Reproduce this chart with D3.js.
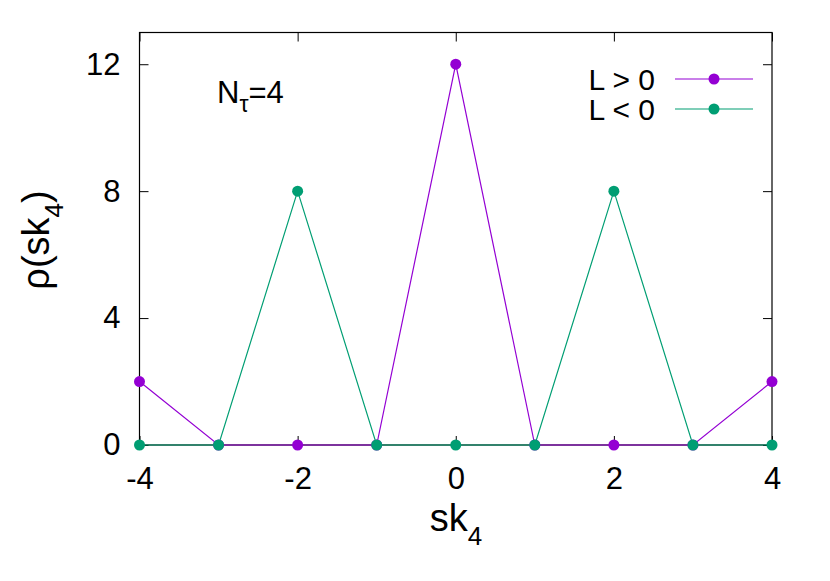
<!DOCTYPE html>
<html>
<head>
    <title>rho(sk4)</title>
    <script src="https://d3js.org/d3.v7.min.js"></script>
    <style>
        body { margin: 0; background: #fff; }
        svg { font-family: 'Liberation Sans', Arial, sans-serif; }
    </style>
</head>
<body>
    <svg id="chart" width="830" height="581"></svg>
    <script>
        // data
        const skValues = [-4, -3, -2, -1, 0, 1, 2, 3, 4];
        const rhoPositive = [2, 0, 0, 0, 12, 0, 0, 0, 2];   // L > 0
        const rhoNegative = [0, 0, 8, 0, 0, 0, 8, 0, 0];    // L < 0
        const xTicks = [-4, -2, 0, 2, 4];
        const yTicks = [0, 4, 8, 12];
        const seriesNames = ["L > 0", "L < 0"];
        const seriesColors = ["#9400d3", "#009e73"];

        const svg = d3.select("#chart");
        const plotLeft = 139.5, plotRight = 772, plotTop = 32.5, plotBottom = 445;

        const x = d3.scaleLinear().domain([-4, 4]).range([plotLeft, plotRight]);
        const y = d3.scaleLinear().domain([0, 13]).range([plotBottom, plotTop]);

        const tickLen = 9;
        const fmt = d => String(d);   // plain hyphen like gnuplot
        // ticks, inward and mirrored like gnuplot
        svg.append("g").attr("transform", `translate(0,${plotBottom})`)
            .call(d3.axisBottom(x).tickValues(xTicks).tickSize(-tickLen).tickPadding(22).tickFormat(fmt))
            .call(g => g.select(".domain").remove());
        svg.append("g").attr("transform", `translate(0,${plotTop})`)
            .call(d3.axisTop(x).tickValues(xTicks).tickSize(-tickLen).tickFormat(""))
            .call(g => g.select(".domain").remove());
        svg.append("g").attr("transform", `translate(${plotLeft},0)`)
            .call(d3.axisLeft(y).tickValues(yTicks).tickSize(-tickLen).tickPadding(19).tickFormat(fmt))
            .call(g => g.select(".domain").remove());
        svg.append("g").attr("transform", `translate(${plotRight},0)`)
            .call(d3.axisRight(y).tickValues(yTicks).tickSize(-tickLen).tickFormat(""))
            .call(g => g.select(".domain").remove());

        svg.selectAll(".tick line").attr("stroke", "#000");
        svg.selectAll(".tick text").attr("font-size", 31).attr("fill", "#000")
            .attr("font-family", "'Liberation Sans', Arial, sans-serif");

        svg.append("rect")
            .attr("x", plotLeft).attr("y", plotTop)
            .attr("width", plotRight - plotLeft).attr("height", plotBottom - plotTop)
            .attr("fill", "none").attr("stroke", "#000").attr("stroke-width", 1.2);

        const series = [rhoPositive, rhoNegative];
        const line = d3.line().x((d, i) => x(skValues[i])).y(d => y(d));

        series.forEach((vals, k) => {
            svg.append("path").datum(vals)
                .attr("d", line)
                .attr("fill", "none")
                .attr("stroke", seriesColors[k])
                .attr("stroke-width", 1.2);
        });
        series.forEach((vals, k) => {
            svg.append("g").selectAll("circle").data(vals).join("circle")
                .attr("cx", (d, i) => x(skValues[i]))
                .attr("cy", d => y(d))
                .attr("r", 5.5)
                .attr("fill", seriesColors[k]);
        });

        // legend
        const legend = svg.append("g");
        seriesNames.forEach((name, k) => {
            const ly = 79 + k * 30;
            legend.append("text")
                .attr("x", 655).attr("y", ly)
                .attr("dy", "0.35em")
                .attr("text-anchor", "end")
                .attr("font-size", 30)
                .text(name);
            legend.append("line")
                .attr("x1", 675).attr("x2", 753)
                .attr("y1", ly).attr("y2", ly)
                .attr("stroke", seriesColors[k]).attr("stroke-width", 1.2);
            legend.append("circle")
                .attr("cx", 714).attr("cy", ly).attr("r", 5.5)
                .attr("fill", seriesColors[k]);
        });

        // N_tau label
        const nt = svg.append("text").attr("x", 217).attr("y", 103).attr("font-size", 31);
        nt.append("tspan").text("N");
        nt.append("tspan").attr("dy", 9).attr("font-size", 23).text("τ");
        nt.append("tspan").attr("dy", -9).text("=4");

        // axis labels
        const xl = svg.append("text").attr("x", 456).attr("y", 531)
            .attr("text-anchor", "middle").attr("font-size", 38);
        xl.append("tspan").text("sk");
        xl.append("tspan").attr("dy", 14).attr("font-size", 26).text("4");

        const yl = svg.append("text")
            .attr("transform", "translate(49,240) rotate(-90)")
            .attr("text-anchor", "middle").attr("font-size", 38);
        yl.append("tspan").text("ρ(sk");
        yl.append("tspan").attr("dy", 14).attr("font-size", 26).text("4");
        yl.append("tspan").attr("dy", -14).text(")");
    </script>
</body>
</html>
